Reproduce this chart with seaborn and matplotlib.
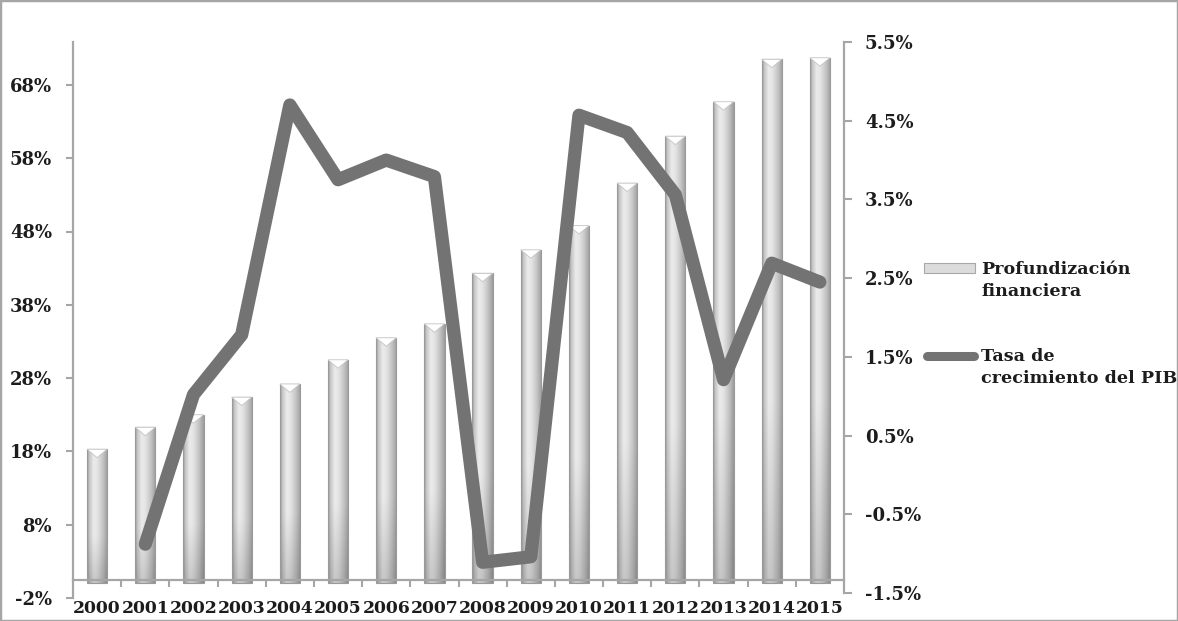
import numpy as np
import pandas as pd
import matplotlib
matplotlib.use("Agg")
import matplotlib.pyplot as plt
import seaborn as sns
from matplotlib.colors import LinearSegmentedColormap
from matplotlib.patches import Polygon, Rectangle
from matplotlib.lines import Line2D
from matplotlib.ticker import FixedLocator

# ---- data -------------------------------------------------------------
years = [str(y) for y in range(2000, 2016)]
profundizacion = [18.3, 21.3, 23.0, 25.4, 27.2, 30.5, 33.5, 35.4,
                  42.3, 45.5, 48.8, 54.6, 61.0, 65.7, 71.5, 71.7]   # % del PIB
crecimiento = [np.nan, -0.88, 1.02, 1.78, 4.70, 3.75, 4.00, 3.79,
               -1.11, -1.04, 4.57, 4.35, 3.56, 1.21, 2.69, 2.45]  # % anual
left_ticks = [-2, 8, 18, 28, 38, 48, 58, 68]
right_ticks = [-1.5, -0.5, 0.5, 1.5, 2.5, 3.5, 4.5, 5.5]
legend_labels = ["Profundización\nfinanciera", "Tasa de\ncrecimiento del PIB"]

# ---- style ------------------------------------------------------------
sns.set_theme(style="white")
plt.rcParams["font.family"] = ["DejaVu Serif"]
plt.rcParams["font.weight"] = "bold"
TEXT = "#1c1c1c"
AXIS = "#a6a6a6"
LINE = "#737373"
FS = 13
FS_X = 12.4
FS_LEG = 12.6

fig = plt.figure(figsize=(11.78, 6.21), dpi=100)
fig.patch.set_facecolor("white")
pos = [73 / 1178, 23 / 621, (844 - 73) / 1178, (598 - 42) / 621]
ax = fig.add_axes(pos)

# ---- columns ----------------------------------------------------------
bars_df = pd.DataFrame({"anio": years, "valor": profundizacion})
sns.barplot(data=bars_df, x="anio", y="valor", ax=ax, width=0.42,
            color="#d9d9d9", saturation=1, edgecolor="#9a9a9a",
            linewidth=0.8, zorder=2)

ylo, yhi = -2, -2 + (598 - 42) / 7.33
ax.set_xlim(-0.5, len(years) - 0.5)
ax.set_ylim(ylo, yhi)

# cylinder-like shading for each column
cyl = LinearSegmentedColormap.from_list(
    "cyl", [(0, "#969696"), (0.10, "#c4c4c4"), (0.32, "#ebebeb"),
            (0.50, "#e4e4e4"), (0.78, "#c2c2c2"), (1, "#9c9c9c")])
ncol, nrow = 64, 120
t = np.linspace(0, 1, ncol)
row_rgb = cyl(t)[:, :3]
v = np.linspace(0, 1, nrow)
shade = np.clip(0.85 + 0.15 * (v / 0.35), 0.85, 1.0)
img = shade[:, None, None] * row_rgb[None, :, :]

for p in list(ax.patches):
    x0, y0 = p.get_x(), p.get_y()
    w, h = p.get_width(), p.get_height()
    im = ax.imshow(img, extent=[x0, x0 + w, y0, y0 + h], origin="lower",
                   aspect="auto", interpolation="bilinear", zorder=2.1)
    im.set_clip_path(p)
    p.set_facecolor("none")
    p.set_zorder(2.2)
    d = 1.15
    ax.add_patch(Polygon([(x0, y0 + h), (x0 + w, y0 + h), (x0 + w / 2, y0 + h - d)],
                         closed=True, facecolor="white", edgecolor="#c4c4c4",
                         linewidth=0.6, zorder=2.3))

ax.set_xlim(-0.5, len(years) - 0.5)
ax.set_ylim(ylo, yhi)

# ---- axes styling (left / floor) --------------------------------------
for s in ["top", "right"]:
    ax.spines[s].set_visible(False)
ax.spines["left"].set_color(AXIS)
ax.spines["left"].set_linewidth(1.6)
ax.spines["left"].set_bounds(ylo, yhi)
ax.spines["bottom"].set_position(("data", 0.4))
ax.spines["bottom"].set_color(AXIS)
ax.spines["bottom"].set_linewidth(1.6)
ax.spines["bottom"].set_zorder(3)

ax.set_yticks(left_ticks)
ax.set_yticklabels([f"{v}%" for v in left_ticks])
ax.tick_params(axis="y", direction="out", length=5, width=1.5, color=AXIS,
               pad=10, labelsize=FS, labelcolor=TEXT, left=True)
ax.set_xticks(range(len(years)))
ax.set_xticklabels(years)
ax.xaxis.set_minor_locator(FixedLocator(np.arange(0.5, len(years) - 1, 1.0)))
ax.tick_params(axis="x", which="major", length=0, pad=14, labelsize=FS_X,
               labelcolor=TEXT)
ax.tick_params(axis="x", which="minor", direction="out", length=5, width=1.5,
               color=AXIS, bottom=True)
for lab in ax.get_xticklabels() + ax.get_yticklabels():
    lab.set_fontweight("bold")
ax.set_xlabel("")
ax.set_ylabel("")
ax.grid(False)

# ---- growth line (right axis) -----------------------------------------
ax2 = ax.twinx()
ax2.set_position(pos)
line_df = pd.DataFrame({"pos": np.arange(len(years)), "crec": crecimiento}).dropna()
sns.lineplot(data=line_df, x="pos", y="crec", ax=ax2, color=LINE,
             linewidth=9.5, solid_capstyle="round", solid_joinstyle="round",
             zorder=5)
rlo = -1.5 - (598 - 593) / 78.7
ax2.set_ylim(rlo, 5.5)
ax2.set_xlim(-0.5, len(years) - 0.5)
for s in ["top", "left", "bottom"]:
    ax2.spines[s].set_visible(False)
ax2.spines["right"].set_color(AXIS)
ax2.spines["right"].set_linewidth(1.6)
ax2.spines["right"].set_bounds(-1.5, 5.5)
ax2.set_yticks(right_ticks)
ax2.set_yticklabels([f"{v:.1f}%" for v in right_ticks])
ax2.tick_params(axis="y", direction="out", length=6, width=1.5, color=AXIS,
                pad=9, labelsize=FS, labelcolor=TEXT, right=True)
for lab in ax2.get_yticklabels():
    lab.set_fontweight("bold")
ax2.set_xlabel("")
ax2.set_ylabel("")
ax2.grid(False)

# ---- legend -----------------------------------------------------------
def fx(px):
    return px / 1178

def fy(py):
    return 1 - py / 621

fig.patches.append(Rectangle((fx(924), fy(273)), fx(975) - fx(924), fy(263) - fy(273),
                             transform=fig.transFigure, facecolor="#dcdcdc",
                             edgecolor="#a8a8a8", linewidth=0.8))
fig.lines.append(Line2D([fx(927), fx(974)], [fy(356), fy(356)],
                        transform=fig.transFigure, color=LINE, linewidth=6.5,
                        solid_capstyle="round"))
fig.text(fx(981), fy(261), legend_labels[0], ha="left", va="top",
         fontsize=FS_LEG, fontweight="bold", color=TEXT, linespacing=1.4)
fig.text(fx(981), fy(348), legend_labels[1], ha="left", va="top",
         fontsize=FS_LEG, fontweight="bold", color=TEXT, linespacing=1.4)

# outer frame
fig.patches.append(Rectangle((0, 0), 1, 1, transform=fig.transFigure,
                             fill=False, edgecolor="#a6a6a6", linewidth=2.5))

fig.savefig("out.png", dpi=100, facecolor="white")
